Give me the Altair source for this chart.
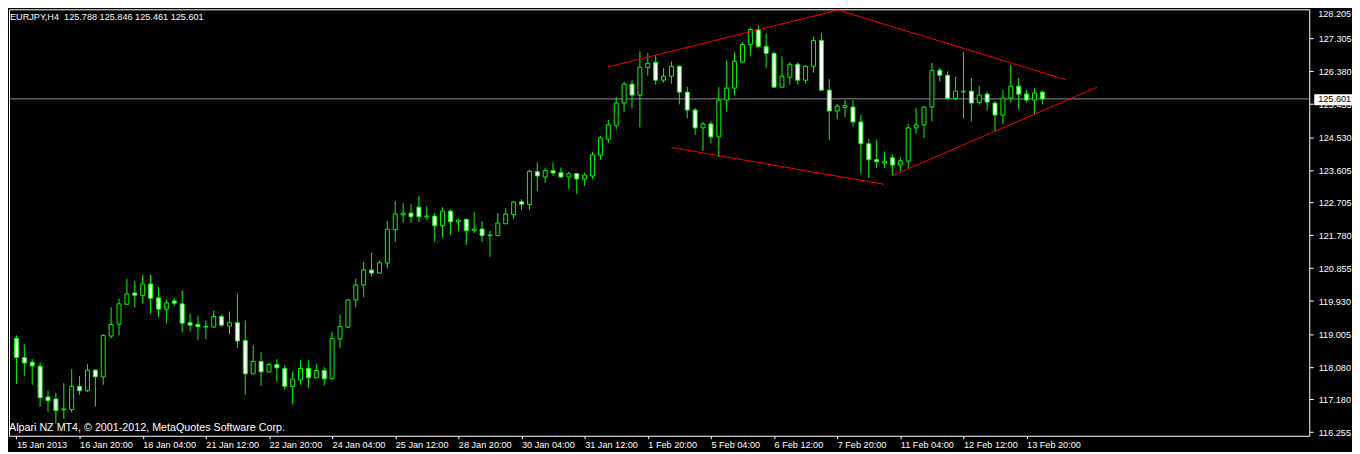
import altair as alt
import pandas as pd

# ---------------- data ----------------
open_ = [
    118.885, 118.347, 118.216, 118.104, 117.240, 117.184, 116.877, 116.886, 117.538, 117.415,
    117.993, 117.806, 118.949, 119.283, 119.841, 120.159, 120.092, 120.410, 120.019, 119.702,
    119.936, 119.852, 119.322, 119.275, 119.200, 119.200, 119.498, 119.228, 119.322, 118.821,
    117.889, 118.235, 117.945, 118.151, 118.040, 117.538, 117.722, 118.040, 117.778, 117.984,
    117.750, 118.865, 119.200, 119.964, 120.382, 120.800, 120.716, 120.995, 121.932, 122.350,
    122.398, 122.565, 122.286, 122.314, 122.043, 122.453, 122.155, 122.222, 121.904, 121.951,
    121.765, 121.765, 122.099, 122.350, 122.713, 122.640, 123.560, 123.410, 123.588, 123.532,
    123.410, 123.504, 123.354, 123.438, 124.023, 124.469, 124.859, 125.484, 126.014, 125.707,
    126.476, 126.627, 126.125, 126.237, 126.515, 125.791, 125.289, 124.787, 124.898, 124.536,
    125.568, 125.902, 126.635, 127.129, 127.547, 127.073, 126.878, 125.930, 126.209, 126.571,
    126.125, 126.515, 127.240, 125.846, 125.261, 125.361, 125.372, 124.954, 124.341, 123.895,
    123.800, 123.950, 123.744, 123.856, 124.787, 124.871, 125.372, 126.404, 126.265, 125.612,
    125.799, 125.818, 125.501, 125.735, 125.484, 125.149, 125.623, 125.958, 125.735, 125.568,
    125.788,
]
high = [
    118.968, 118.717, 118.299, 118.216, 117.415, 117.351, 117.630, 118.020, 117.825, 118.160,
    118.010, 118.996, 119.757, 120.000, 120.557, 120.502, 120.669, 120.669, 120.334, 119.964,
    120.019, 120.223, 119.582, 119.526, 119.387, 119.665, 119.554, 119.637, 120.139, 119.387,
    118.690, 118.494, 118.207, 118.299, 118.132, 117.965, 118.271, 118.271, 118.160, 118.076,
    119.071, 119.554, 119.975, 120.557, 121.031, 121.282, 121.059, 122.175, 122.732, 122.676,
    122.648, 122.872, 122.593, 122.398, 122.565, 122.509, 122.239, 122.240, 122.425, 122.175,
    121.896, 122.398, 122.537, 122.732, 122.788, 123.624, 123.819, 123.672, 123.819, 123.680,
    123.560, 123.520, 123.532, 124.118, 124.564, 125.010, 125.651, 126.078, 126.133, 126.934,
    126.886, 126.822, 126.468, 126.655, 126.543, 125.938, 125.344, 124.954, 124.971, 125.930,
    126.683, 126.906, 127.185, 127.603, 127.667, 127.444, 126.934, 126.794, 126.627, 126.627,
    126.543, 127.352, 127.444, 126.153, 125.464, 125.568, 125.568, 125.158, 124.469, 124.461,
    124.126, 124.042, 123.959, 124.898, 125.353, 125.390, 126.607, 126.468, 126.376, 126.217,
    126.914, 126.189, 125.966, 125.799, 125.540, 125.855, 126.552, 126.189, 125.855, 125.902,
    125.846,
]
low = [
    117.602, 117.834, 117.583, 116.969, 116.830, 116.487, 116.626, 116.802, 117.304, 117.379,
    116.969, 117.583, 118.885, 118.977, 119.830, 119.757, 119.869, 119.590, 119.479, 119.311,
    119.796, 119.052, 119.080, 118.837, 118.857, 119.190, 119.200, 119.005, 118.614, 117.304,
    117.880, 117.555, 117.917, 117.666, 117.443, 117.025, 117.583, 117.499, 117.770, 117.555,
    117.740, 118.614, 119.172, 119.757, 120.036, 120.622, 120.689, 120.845, 121.589, 122.127,
    122.127, 122.147, 122.202, 121.597, 121.709, 121.784, 121.896, 121.505, 121.840, 121.589,
    121.171, 121.755, 122.090, 122.230, 122.481, 122.481, 123.019, 123.242, 123.438, 123.382,
    123.075, 122.936, 123.159, 123.354, 123.884, 124.358, 124.748, 125.222, 125.333, 124.804,
    126.253, 126.002, 126.058, 126.030, 125.445, 125.054, 124.592, 124.134, 124.358, 123.967,
    125.241, 125.696, 126.616, 126.803, 127.017, 126.468, 125.902, 125.920, 126.002, 126.002,
    126.041, 126.337, 125.836, 124.441, 125.027, 125.082, 124.832, 123.493, 123.382, 123.660,
    123.660, 123.449, 123.577, 123.660, 124.620, 124.497, 124.971, 126.086, 125.584, 125.568,
    125.054, 124.971, 125.445, 125.278, 124.703, 124.887, 125.501, 125.305, 125.501, 125.177,
    125.461,
]
close = [
    118.347, 118.196, 118.112, 117.220, 117.137, 116.858, 116.905, 117.538, 117.415, 117.993,
    117.806, 118.968, 119.275, 119.852, 120.131, 120.092, 120.410, 120.008, 119.702, 119.880,
    119.869, 119.311, 119.255, 119.211, 119.219, 119.498, 119.255, 119.322, 118.809, 117.889,
    118.235, 117.945, 118.151, 118.057, 117.538, 117.742, 118.040, 117.778, 117.984, 117.750,
    118.876, 119.211, 119.964, 120.382, 120.808, 120.716, 121.004, 121.943, 122.370, 122.398,
    122.294, 122.294, 122.314, 122.043, 122.453, 122.155, 122.202, 121.904, 121.951, 121.765,
    121.784, 122.119, 122.370, 122.704, 122.648, 123.569, 123.438, 123.588, 123.521, 123.410,
    123.504, 123.354, 123.465, 124.034, 124.508, 124.871, 125.484, 126.014, 125.707, 126.488,
    126.599, 126.125, 126.237, 126.515, 125.791, 125.289, 124.787, 124.898, 124.536, 125.568,
    125.902, 126.655, 127.129, 127.547, 127.073, 126.878, 125.930, 126.237, 126.571, 126.125,
    126.515, 127.240, 125.846, 125.261, 125.400, 125.409, 124.954, 124.341, 123.895, 123.839,
    123.839, 123.744, 123.867, 124.787, 124.871, 125.372, 126.404, 126.265, 125.612, 125.818,
    125.818, 125.484, 125.707, 125.512, 125.149, 125.623, 125.958, 125.735, 125.568, 125.763,
    125.601,
]

x_tick_values = [0, 8, 16, 24, 32, 40, 48, 56, 64, 72, 80, 88, 96, 104, 112, 120, 128]
x_tick_labels = [
    "15 Jan 2013", "16 Jan 20:00", "18 Jan 04:00", "21 Jan 12:00", "22 Jan 20:00",
    "24 Jan 04:00", "25 Jan 12:00", "28 Jan 20:00", "30 Jan 04:00", "31 Jan 12:00",
    "1 Feb 20:00", "5 Feb 04:00", "6 Feb 12:00", "7 Feb 20:00", "11 Feb 04:00",
    "12 Feb 12:00", "13 Feb 20:00",
]
y_tick_values = [127.305, 126.380, 125.455, 124.530, 123.605, 122.705, 121.780,
                 120.855, 119.930, 119.005, 118.080, 117.180, 116.255]
top_tick_label = "128.205"

# red trend lines (bar index / price of both ends)
trend_x1 = [74.96, 104.10, 83.00, 111.09]
trend_y1 = [126.496, 128.093, 124.238, 123.457]
trend_x2 = [104.10, 132.93, 109.93, 136.93]
trend_y2 = [128.093, 126.142, 123.206, 125.930]

symbol_text = "EURJPY,H4\u00a0\u00a0125.788 125.846 125.461 125.601"
copyright_text = "Alpari NZ MT4, \u00a9 2001-2012, MetaQuotes Software Corp."
last_price = 125.601

# ---------------- chart ----------------
W, H = 1308, 429
FONT = "Liberation Sans"
FS = 9.2
GREEN = "#00ff00"

df = pd.DataFrame({"bar": list(range(len(close))), "open": open_, "high": high,
                   "low": low, "close": close})
df["kind"] = ["bull" if c > o else "bear" for o, c in zip(open_, close)]

trend = pd.DataFrame({"x1": trend_x1, "y1": trend_y1, "x2": trend_x2, "y2": trend_y2})
price_df = pd.DataFrame({"price": [last_price], "label": [f"{last_price:.3f}"]})

xs = alt.Scale(domain=[-0.3125, -0.3125 + W / 8], nice=False, zero=False)
ys = alt.Scale(domain=[116.152, 128.113], nice=False, zero=False)

label_expr = "[" + ",".join(f"'{t}'" for t in x_tick_labels) + "][datum.value / 8]"
x_axis = alt.Axis(values=x_tick_values, labelExpr=label_expr, title=None, orient="bottom",
                  labelAlign="left", labelBaseline="top", labelFlush=False, labelOverlap=False,
                  tickSize=3, labelPadding=2, domain=False, grid=False,
                  tickColor="#ffffff", labelColor="#ffffff",
                  labelFont=FONT, labelFontSize=FS)
y_axis = alt.Axis(values=y_tick_values, format=".3f", title=None, orient="right",
                  tickSize=4, labelPadding=5, domain=False, grid=False, labelOverlap=False,
                  tickColor="#ffffff", labelColor="#ffffff",
                  labelFont=FONT, labelFontSize=FS)

base = alt.Chart(df)

price_line = alt.Chart(price_df).mark_rule(color="#8a8e96", strokeWidth=1).encode(
    y=alt.Y("price:Q", scale=ys, axis=y_axis)
)

wicks = base.mark_rule(color=GREEN, strokeWidth=1).encode(
    x=alt.X("bar:Q", scale=xs, axis=x_axis),
    y=alt.Y("low:Q", scale=ys, axis=y_axis),
    y2="high:Q",
)

bodies = base.mark_bar(size=4, stroke=GREEN, strokeWidth=1).encode(
    x=alt.X("bar:Q", scale=xs, axis=x_axis),
    y=alt.Y("open:Q", scale=ys, axis=y_axis),
    y2="close:Q",
    fill=alt.Fill("kind:N", scale=alt.Scale(domain=["bull", "bear"],
                                            range=["#000000", "#ffffff"]), legend=None),
)

trend_lines = alt.Chart(trend).mark_rule(color="#ff0000", strokeWidth=1).encode(
    x=alt.X("x1:Q", scale=xs, axis=x_axis),
    y=alt.Y("y1:Q", scale=ys, axis=y_axis),
    x2="x2:Q",
    y2="y2:Q",
)

price_box = alt.Chart(price_df).mark_rect(fill="#ffffff").encode(
    x=alt.value(W + 5), x2=alt.value(W + 43),
    y=alt.value(85.5), y2=alt.value(96.5),
)
price_text = alt.Chart(price_df).mark_text(align="left", baseline="middle", font=FONT,
                                           fontSize=FS, color="#000000").encode(
    x=alt.value(W + 9),
    y=alt.Y("price:Q", scale=ys, axis=y_axis),
    text="label:N",
)

top_label = alt.Chart(pd.DataFrame({"t": [top_tick_label]})).mark_text(
    align="left", baseline="middle", font=FONT, fontSize=FS, color="#ffffff"
).encode(x=alt.value(W + 9), y=alt.value(5), text="t:N")

title_text = alt.Chart(pd.DataFrame({"t": [symbol_text]})).mark_text(
    align="left", baseline="middle", font=FONT, fontSize=9.2, color="#ffffff"
).encode(x=alt.value(1), y=alt.value(8), text="t:N")

copy_text = alt.Chart(pd.DataFrame({"t": [copyright_text]})).mark_text(
    align="left", baseline="middle", font=FONT, fontSize=10.8, color="#ffffff"
).encode(x=alt.value(0), y=alt.value(421), text="t:N")

chart = alt.layer(
    price_line, wicks, bodies, trend_lines, price_box, price_text, top_label,
    title_text, copy_text
).properties(
    width=W, height=H, padding={"left": 0, "top": 0, "right": 0, "bottom": 0},
    background="#000000",
).configure_view(
    stroke="#ffffff", strokeWidth=1, fill="#000000"
)

chart.save("out.html", embed_options={"renderer": "svg", "actions": False})
